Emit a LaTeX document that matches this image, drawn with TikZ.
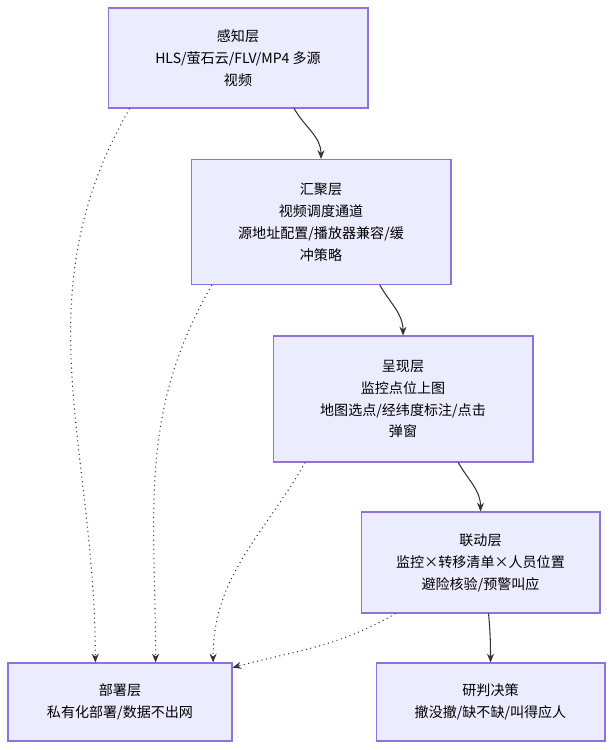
\documentclass[tikz,border=0pt]{standalone}
\usepackage{fontspec}
\setmainfont{Noto Sans CJK SC}
\usetikzlibrary{arrows.meta}
\definecolor{boxfill}{HTML}{ECECFF}
\definecolor{boxline}{HTML}{9370DB}
\definecolor{linkcol}{HTML}{333333}
\begin{document}
\begin{tikzpicture}[x=0.02cm,y=-0.02cm,
  every node/.style={draw=boxline, fill=boxfill, line width=0.6pt, align=center, font=\fontsize{8}{12.5}\selectfont, inner sep=0pt},
  solid link/.style={draw=linkcol, line width=0.6pt, -{Stealth[length=5pt,width=4pt]}},
  dashed link/.style={draw=linkcol, line width=0.6pt, dotted, -{Stealth[length=5pt,width=4pt]}}]
\useasboundingbox (0,0) rectangle (613,750);
\node[minimum width=5.2cm, minimum height=2cm] (Sense) at (238,58) {感知层\\HLS/萤石云/FLV/MP4 多源\\视频};
\node[minimum width=5.2cm, minimum height=2.5cm] (Gather) at (321,222) {汇聚层\\视频调度通道\\源地址配置/播放器兼容/缓\\冲策略};
\node[minimum width=5.2cm, minimum height=2.52cm] (Show) at (403,399) {呈现层\\监控点位上图\\地图选点/经纬度标注/点击\\弹窗};
\node[minimum width=4.78cm, minimum height=2.02cm] (Link) at (480.5,562.5) {联动层\\监控×转移清单×人员位置\\避险核验/预警叫应};
\node[minimum width=4.48cm, minimum height=1.56cm] (Deploy) at (120,702) {部署层\\私有化部署/数据不出网};
\node[minimum width=4.58cm, minimum height=1.56cm] (Judge) at (490.5,702) {研判决策\\撤没撤/缺不缺/叫得应人};
\draw[solid link] (Sense.-42) to[out=-60,in=90] (Gather.90);
\draw[solid link] (Gather.-47) to[out=-60,in=90] (Show.90);
\draw[solid link] (Show.-49) to[out=-60,in=90] (Link.90);
\draw[solid link] (Link.-81) to[out=-85,in=90] (Judge.90);
\draw[dashed link] (Sense.-155) to[out=-120,in=90] (Deploy.122);
\draw[dashed link] (Gather.-150) to[out=-120,in=90] (Deploy.48);
\draw[dashed link] (Show.-147) to[out=-120,in=90] (Deploy.23);
\draw[dashed link] (Link.-149) to[out=-150,in=15] (Deploy.17);
\end{tikzpicture}
\end{document}
